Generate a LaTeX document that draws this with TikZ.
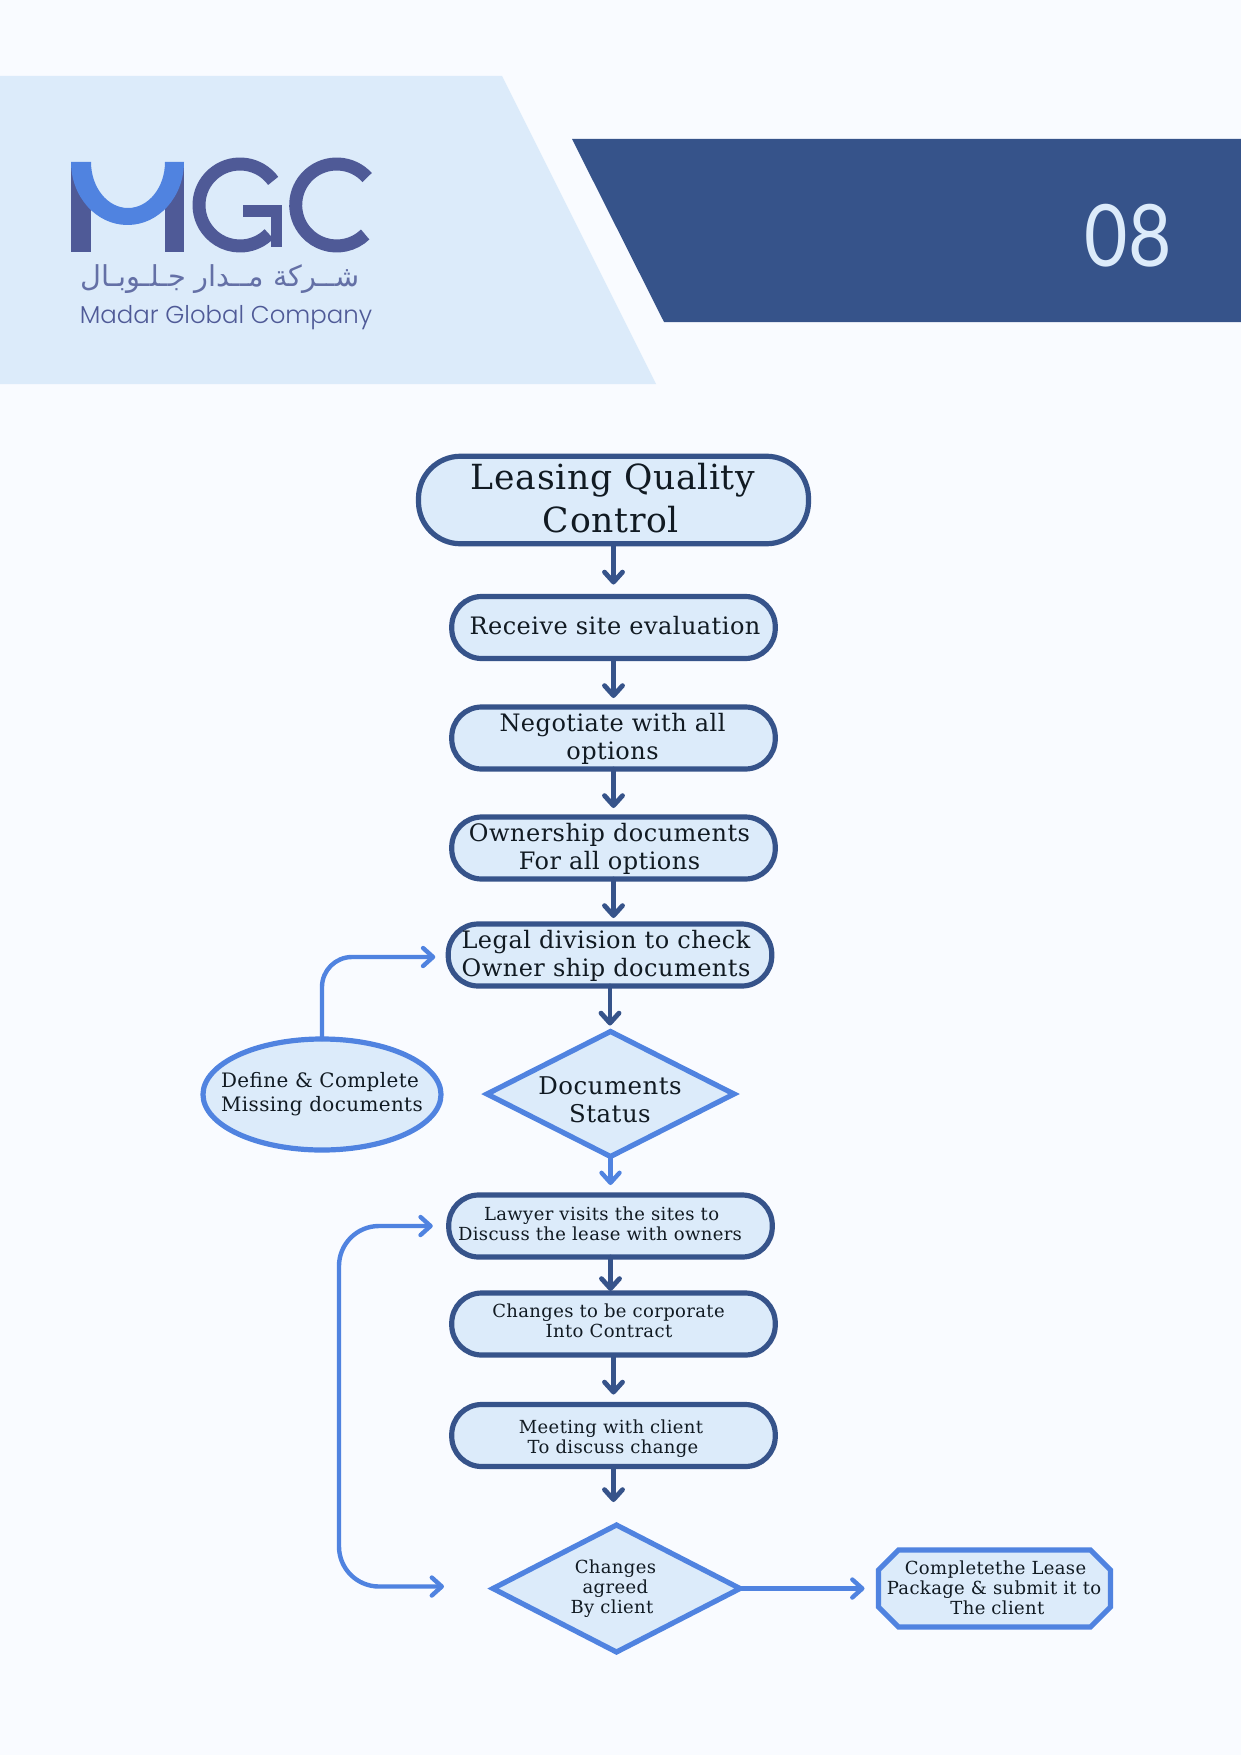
\documentclass[tikz,border=0pt]{standalone}
\usepackage{fontspec}
\usetikzlibrary{arrows.meta,shapes.geometric,shapes.misc,calc}
\setmainfont[LetterSpace=2]{DejaVu Serif}
\newfontfamily\arabicfont[Script=Arabic]{DejaVu Sans}
\newfontfamily\logofont{Poppins Light}
\newfontfamily\numfont{Lato}
\TeXXeTstate=1
\definecolor{bgpage}{HTML}{F9FBFF}
\definecolor{paleblue}{HTML}{DCEBFA}
\definecolor{navy}{HTML}{36538A}
\definecolor{brightblue}{HTML}{5083E0}
\definecolor{logoviolet}{HTML}{4F5A97}
\definecolor{inkdark}{HTML}{111A22}
\newcommand\fs[2]{\fontsize{#1pt}{#2pt}\selectfont}
\tikzset{
  pill/.style={draw=navy,fill=paleblue,line width=2.6pt,rectangle,rounded corners=15pt,outer sep=0pt,inner sep=0pt,minimum width=161.75pt,minimum height=31pt},
  deci/.style={draw=brightblue,fill=paleblue,line width=2.6pt,diamond,outer sep=0pt,inner sep=0pt},
  txt/.style={text=inkdark,align=center,inner sep=0pt},
  bigt/.style={txt,font=\fs{17.3}{21.5}},
  midt/.style={txt,font=\fs{12}{14}},
  doct/.style={txt,font=\fs{12.2}{14}},
  elt/.style={txt,align=left,font=\fs{9.95}{12}},
  smt/.style={txt,font=\fs{9}{10}},
  darrow/.style={draw=navy,line width=2.4pt,-{Straight Barb[length=5pt,width=9pt,line cap=round,line join=round]},line cap=round},
  barrow/.style={draw=brightblue,line width=2.2pt,-{Straight Barb[length=5pt,width=9pt,line cap=round,line join=round]},line cap=round},
}
\begin{document}
\begin{tikzpicture}[x=0.5pt,y=-0.5pt]
\useasboundingbox (0,0) rectangle (1241,1755);
\fill[bgpage] (0,0) rectangle (1241,1755);
% header bands
\fill[paleblue] (0,76) -- (502,76) -- (656,384) -- (0,384) -- cycle;
\fill[navy] (572,139) -- (1241,139) -- (1241,322) -- (664,322) -- cycle;
\node[inner sep=0pt,text=paleblue] (num) at (1128,236) {\numfont\fs{43}{43}\scalebox{0.87}[1]{08}};
% logo
\fill[logoviolet] (71,162) rectangle (91,252);
\fill[logoviolet] (165,162) rectangle (184,252);
\fill[brightblue] (71,162) arc[start angle=180,end angle=360,x radius=28.25pt,y radius=31.5pt] -- (165,162) arc[start angle=360,end angle=180,x radius=18.5pt,y radius=23pt] -- cycle;
\draw[logoviolet,line width=6.5pt] ($(240,205)+(36:20.5pt)$) arc[start angle=36,end angle=315,radius=20.5pt];
\fill[logoviolet] (243,205) rectangle (282,217);
\fill[logoviolet] (271,205) rectangle (282,247);
\draw[logoviolet,line width=6.5pt] ($(336.7,205)+(42:20.5pt)$) arc[start angle=42,end angle=314,radius=20.5pt];
\node[inner sep=0pt,text=logoviolet!85!paleblue] (logoar) at (220,279) {\arabicfont\fs{14.4}{15}\beginR شــركة مــدار جـلـوبـال\endR};
\node[inner sep=0pt,text=logoviolet] (logoen) at (226,318) {\logofont\fs{12.2}{12.5}Madar Global Company};
% flow boxes
\node[pill,minimum width=195pt,minimum height=43.75pt,rounded corners=21pt] (title) at (613.5,500) {};
\node[pill] (receive) at (613.5,627.5) {};
\node[pill] (negotiate) at (613.5,738) {};
\node[pill] (ownership) at (613.5,848) {};
\node[pill] (legal) at (610,955) {};
\node[deci,minimum width=123.5pt,minimum height=62.5pt] (status) at (610.5,1094) {};
\node[draw=brightblue,fill=paleblue,line width=2.6pt,ellipse,outer sep=0pt,inner sep=0pt,minimum width=119pt,minimum height=55.5pt] (define) at (322,1094.5) {};
\node[pill] (lawyer) at (610.5,1226) {};
\node[pill] (corporate) at (613.5,1324) {};
\node[pill] (meeting) at (613.5,1435.5) {};
\node[deci,minimum width=123.5pt,minimum height=63.5pt] (agreed) at (616.5,1588.5) {};
\node[rectangle,outer sep=0pt,inner sep=0pt,minimum width=116pt,minimum height=38.5pt] (complete) at (994.5,1588.5) {};
\draw[draw=brightblue,fill=paleblue,line width=2.6pt] ($(complete.north west)+(10pt,0pt)$) -- ($(complete.north east)+(-10pt,0pt)$) -- ($(complete.north east)+(0pt,-10pt)$) -- ($(complete.south east)+(0pt,10pt)$) -- ($(complete.south east)+(-10pt,0pt)$) -- ($(complete.south west)+(10pt,0pt)$) -- ($(complete.south west)+(0pt,10pt)$) -- ($(complete.north west)+(0pt,-10pt)$) -- cycle;
% labels
\node[bigt] (titletext) at (613,498) {Leasing Quality\\\hspace*{-2pt}Control};
\node[midt] (receivetext) at (615,626) {Receive site evaluation};
\node[midt] (negotiatetext) at (612.5,739) {Negotiate with all\\options};
\node[midt] (ownershiptext) at (609.5,849) {Ownership documents\\For all options};
\node[midt] (legaltext) at (606,956) {Legal division to check\\Owner ship documents};
\node[doct] (statustext) at (610,1100) {Documents\\Status};
\node[elt] (definetext) at (322,1094) {Define \& Complete\\Missing documents};
\node[smt] (lawyertext) at (600,1224) {\hspace*{1.6pt}Lawyer visits the sites to\\Discuss the lease with owners};
\node[smt] (corporatetext) at (608.5,1321) {Changes to be corporate\\\hspace*{0.5pt}Into Contract};
\node[smt] (meetingtext) at (611,1438.5) {Meeting with client\\\hspace*{2pt}To discuss change};
\node[smt] (agreedtext) at (612,1589) {\hspace*{3.4pt}Changes\\\hspace*{3.4pt}agreed\\By client};
\node[smt] (completetext) at (994,1588) {\hspace*{1.5pt}Completethe Lease\\Package \& submit it to\\\hspace*{3.4pt}The client};
% connectors
\draw[darrow,shorten >=6pt] (title.south) -- (title.south |- receive.north);
\draw[darrow,shorten >=4.5pt] (receive.south) -- (receive.south |- negotiate.north);
\draw[darrow,shorten >=4.5pt] (negotiate.south) -- (negotiate.south |- ownership.north);
\draw[darrow,shorten >=3pt] (ownership.south) -- (ownership.south |- legal.north);
\draw[darrow,shorten >=3pt] (legal.south) -- (legal.south |- status.north);
\draw[barrow,shorten >=5pt] (status.south) -- (status.south |- lawyer.north);
\draw[darrow,shorten >=1pt] (lawyer.south) -- (lawyer.south |- corporate.north);
\draw[darrow,shorten <=1pt,shorten >=5pt] (corporate.south) -- (corporate.south |- meeting.north);
\draw[darrow,shorten >=11.5pt] (meeting.south) -- (meeting.south |- agreed.north);
\draw[barrow,shorten >=7pt] (agreed.east) -- (complete.west);
\draw[barrow,rounded corners=15pt,shorten >=6.5pt] (define.north) |- ([yshift=-1pt]legal.west);
\coordinate (rail) at (339,1400);
\draw[barrow,{Straight Barb[length=5pt,width=9pt,line cap=round,line join=round]}-{Straight Barb[length=5pt,width=9pt,line cap=round,line join=round]},rounded corners=20pt,shorten <=8pt,shorten >=24.5pt] (lawyer.west) -| (rail) |- ([yshift=1pt]agreed.west);
\end{tikzpicture}
\end{document}
